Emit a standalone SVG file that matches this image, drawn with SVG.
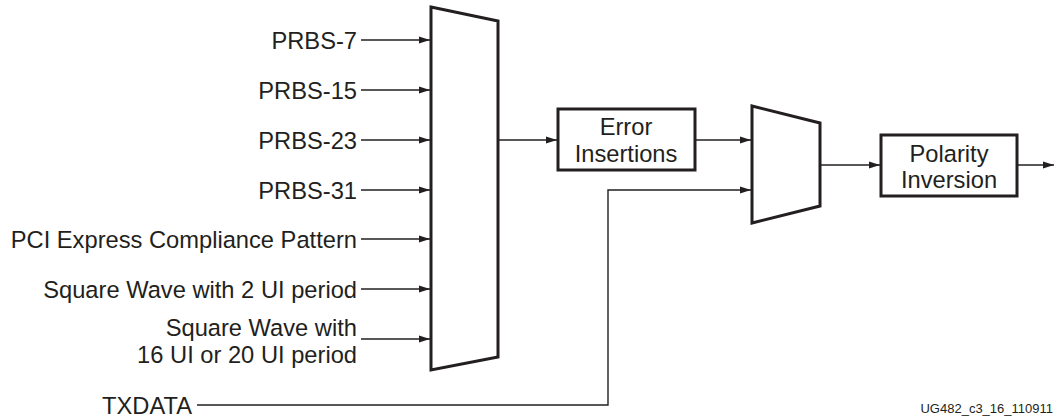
<svg xmlns="http://www.w3.org/2000/svg" width="1058" height="418" viewBox="0 0 1058 418">
<defs>
<marker id="ah" markerUnits="userSpaceOnUse" markerWidth="12" markerHeight="8" refX="11" refY="4" orient="auto">
<path d="M0,0.5 L11,4 L0,7.5 z" fill="#231f20"/>
</marker>
<style>
.t{font-family:"Liberation Sans",Arial,Helvetica,sans-serif;font-size:23.7px;fill:#231f20}
.r{text-anchor:end}
.m{text-anchor:middle}
.blk{fill:#fff;stroke:#231f20;stroke-width:3;stroke-linejoin:miter}
.c{fill:none;stroke:#231f20;stroke-width:1.4;marker-end:url(#ah)}
.fn{font-family:"Liberation Sans",Arial,Helvetica,sans-serif;font-size:13px;fill:#231f20;text-anchor:end}
</style>
</defs>
<rect width="1058" height="418" fill="#fff"/>
<g id="connectors">
<path class="c" d="M361,40 H430"/>
<path class="c" d="M361,90 H430"/>
<path class="c" d="M361,140 H430"/>
<path class="c" d="M361,190 H430"/>
<path class="c" d="M361,239 H430"/>
<path class="c" d="M361,289 H430"/>
<path class="c" d="M361,339 H430"/>
<path class="c" d="M498,140 H557"/>
<path class="c" d="M695,140 H751"/>
<path class="c" d="M197,405 H608 V190 H751"/>
<path class="c" d="M820,165 H880"/>
<path class="c" d="M1017,165 H1054"/>
</g>
<g id="labels">
<text class="t r" x="357" y="49">PRBS-7</text>
<text class="t r" x="357" y="99">PRBS-15</text>
<text class="t r" x="357" y="149">PRBS-23</text>
<text class="t r" x="357" y="199">PRBS-31</text>
<text class="t r" x="357" y="248">PCI Express Compliance Pattern</text>
<text class="t r" x="357" y="298">Square Wave with 2 UI period</text>
<text class="t r" x="357" y="336">Square Wave with</text>
<text class="t r" x="357" y="363">16 UI or 20 UI period</text>
<text class="t r" x="192" y="414">TXDATA</text>
</g>
<g id="pattern-mux">
<polygon class="blk" points="431,7 498,21 498,357 431,370"/>
</g>
<g id="error-insertions">
<rect class="blk" x="558" y="109" width="137" height="61"/>
<text class="t m" x="626" y="135">Error</text>
<text class="t m" x="626" y="162">Insertions</text>
</g>
<g id="output-mux">
<polygon class="blk" points="752,106 820,123 820,206 752,223"/>
</g>
<g id="polarity-inversion">
<rect class="blk" x="881" y="135" width="136" height="61"/>
<text class="t m" x="949" y="162">Polarity</text>
<text class="t m" x="949" y="188">Inversion</text>
</g>
<text class="fn" x="1053" y="413">UG482_c3_16_110911</text>
</svg>
